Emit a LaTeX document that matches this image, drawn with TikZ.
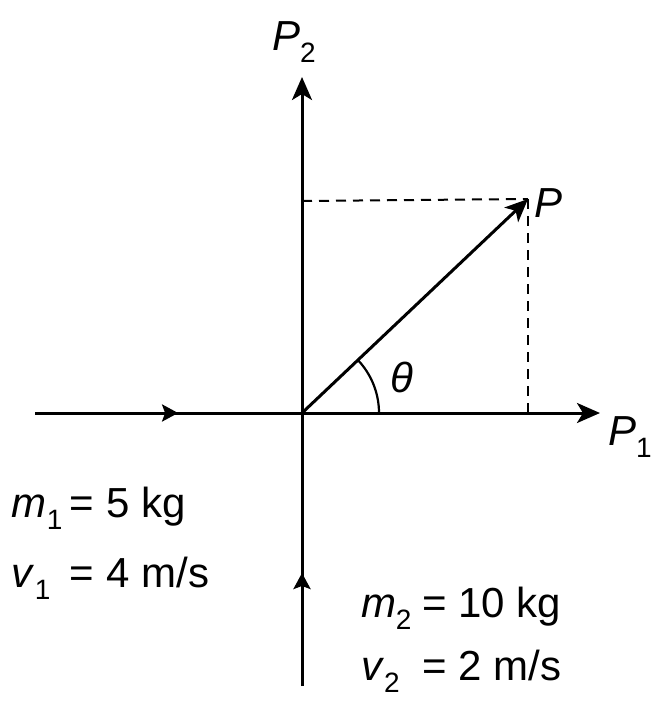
\documentclass[tikz,border=0pt]{standalone}
\usepackage{fontspec}
\setmainfont{Liberation Sans}
\usetikzlibrary{arrows.meta,decorations.markings}
\newcommand\bigtxt{\fontsize{42}{44}\selectfont}
\newcommand\sbs[1]{\raisebox{-12pt}{\fontsize{28}{30}\selectfont\upshape #1}}
% #1 variable, #2 gap before subscript, #3 subscript, #4 value, #5 width of the variable column
\newcommand\qrow[5]{{\bigtxt\makebox[#5][l]{{\itshape #1}\hspace{#2}\sbs{#3}}=\hspace{12pt}#4}}
\tikzset{
  axis/.style={line width=3pt,-{Stealth[length=23pt,width=20pt,inset=6pt]}},
  plain/.style={line width=3pt},
  midarrow/.style={postaction={decorate},decoration={markings,mark=at position #1 with {\arrow{Stealth[length=16pt,width=17pt,inset=3pt]}}}},
  projline/.style={line width=2pt,dash pattern=on 10pt off 7pt},
  txt/.style={anchor=base west,inner sep=0pt,outer sep=0pt}
}
\begin{document}
\begin{tikzpicture}[x=1pt,y=-1pt]
\useasboundingbox (0,0) rectangle (665,716);
\coordinate (O) at (302,413);
\coordinate (L) at (35,413);
\coordinate (R) at (600,413);
\coordinate (T) at (302,77);
\coordinate (B) at (302,686);
\coordinate (Ptip) at (528,199);
\coordinate (Py) at (302,201);
\coordinate (Px) at (528,413);
% dashed projections
\draw[projline] (Py) -- (Ptip);
\draw[projline] (Ptip) -- (Px);
% axes
\draw[axis] (O) -- (R);
\draw[axis] (O) -- (T);
\draw[plain,midarrow=0.536] (L) -- (O);
\draw[plain,midarrow=0.414] (B) -- (O);
% resultant
\draw[axis] (O) -- (Ptip);
% angle
\draw[line width=2.2pt] ([shift={(77,0)}]O) arc[start angle=0,end angle=-43.5,radius=77];
% labels
\node[txt] (lP2) at (272,50) {\bigtxt{\itshape P}\sbs{2}};
\node[txt] (lP) at (534,217) {\bigtxt{\itshape P}};
\node[txt] (lP1) at (608,445) {\bigtxt{\itshape P}\sbs{1}};
\node[txt] (lth) at (390,392) {\bigtxt{\itshape θ}};
\node[txt] (m1) at (12,517) {\qrow{m}{0pt}{1}{5 kg}{58pt}};
\node[txt] (v1) at (12,587) {\qrow{v}{2pt}{1}{4 m/s}{58pt}};
\node[txt] (m2) at (361,617) {\qrow{m}{0pt}{2}{10 kg}{61pt}};
\node[txt] (v2) at (361,680) {\qrow{v}{2pt}{2}{2 m/s}{61pt}};
\end{tikzpicture}
\end{document}
